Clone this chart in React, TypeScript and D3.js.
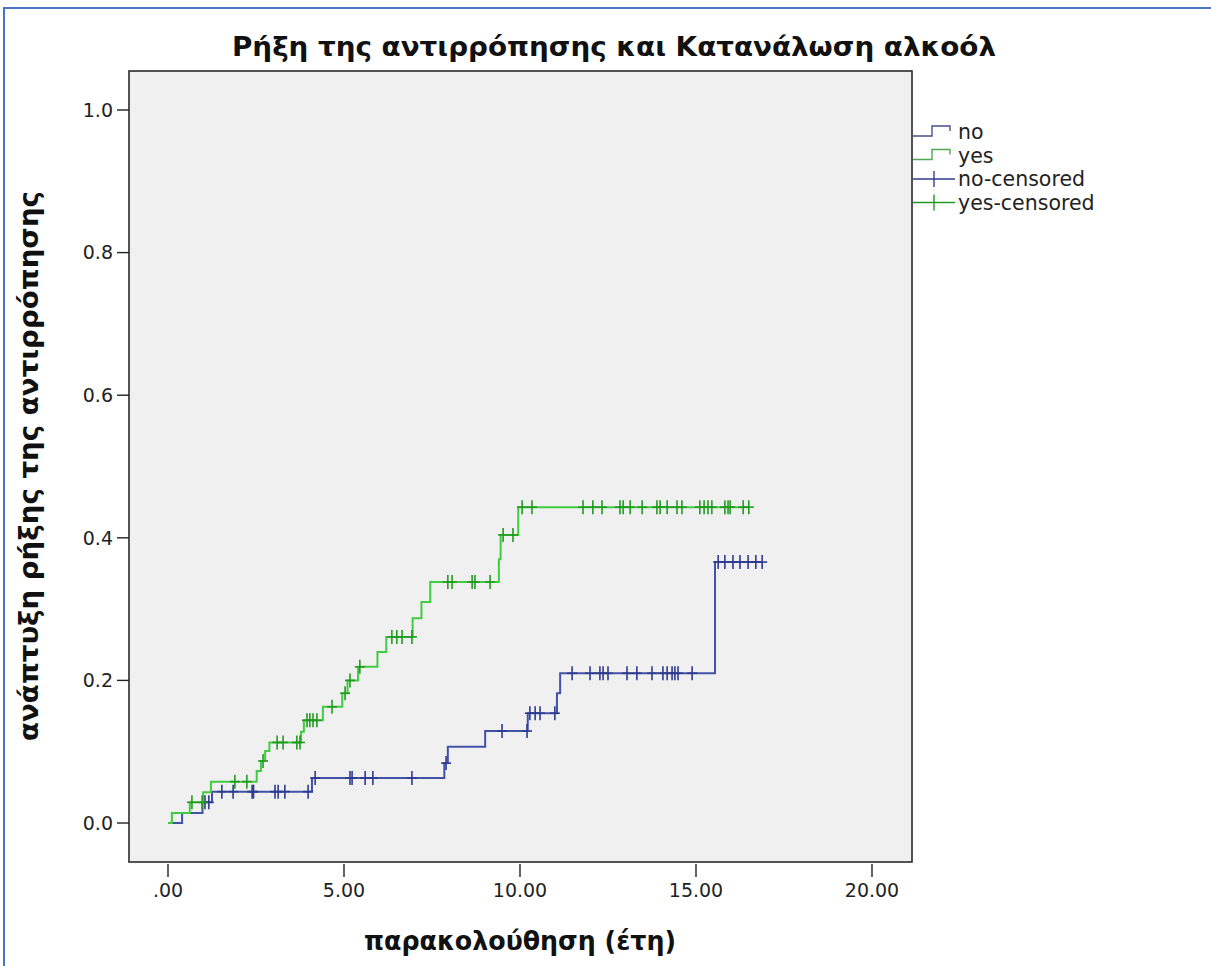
import React from 'react'
import * as d3 from 'd3'

// axis ticks
const xTicks = [0, 5, 10, 15, 20]
const yTicks = [0, 0.2, 0.4, 0.6, 0.8, 1.0]

// "no" group: event times / cumulative incidence after each event, censored times
const noStepTimes = [0.4, 0.98, 1.25, 4.09, 7.85, 7.95, 9.01, 10.22, 11.05, 11.14, 15.54]
const noStepValues = [0.014, 0.029, 0.044, 0.063, 0.084, 0.107, 0.129, 0.154, 0.182, 0.21, 0.366]
const noCensorTimes = [1.05, 1.16, 1.53, 1.85, 2.39, 2.43, 3.04, 3.13, 3.32, 3.98, 4.18, 5.17, 5.23, 5.6, 5.82, 6.93, 7.9, 9.49, 10.2, 10.28, 10.43, 10.57, 10.99, 11.48, 11.99, 12.27, 12.36, 12.5, 13.04, 13.32, 13.75, 14.06, 14.18, 14.32, 14.4, 14.49, 14.89, 15.63, 15.82, 16.05, 16.25, 16.48, 16.7, 16.88]

// "yes" group
const yesStepTimes = [0.11, 0.62, 1.0, 1.22, 2.52, 2.64, 2.76, 2.88, 3.78, 3.86, 4.4, 4.95, 5.1, 5.4, 5.95, 6.2, 6.95, 7.2, 7.45, 9.4, 9.45, 9.95]
const yesStepValues = [0.014, 0.029, 0.043, 0.058, 0.073, 0.087, 0.101, 0.113, 0.128, 0.144, 0.163, 0.182, 0.2, 0.219, 0.24, 0.261, 0.287, 0.31, 0.338, 0.37, 0.404, 0.443]
const yesCensorTimes = [0.68, 0.97, 1.9, 2.24, 2.7, 3.1, 3.27, 3.66, 3.75, 3.95, 4.03, 4.12, 4.23, 4.66, 5.03, 5.17, 5.45, 6.36, 6.5, 6.65, 6.93, 7.95, 8.07, 8.64, 8.72, 9.15, 9.52, 9.8, 10.06, 10.34, 11.79, 12.07, 12.33, 12.84, 12.93, 13.13, 13.47, 13.89, 13.98, 14.18, 14.46, 14.6, 15.11, 15.23, 15.34, 15.45, 15.82, 15.91, 15.97, 16.34, 16.5]

const legendLabels = ['no', 'yes', 'no-censored', 'yes-censored']

const W = 1211
const H = 966
const frame = { left: 129, right: 912, top: 71, bottom: 862 }

const NO_LINE = '#4152a8'
const NO_MARK = '#2e3b8e'
const YES_LINE = '#40cc40'
const YES_MARK = '#229a22'

const tickFont = '"DejaVu Sans", Verdana, sans-serif'
const titleFont = '"Liberation Sans Narrow", "DejaVu Sans Condensed", "Open Sans", sans-serif'

const x = d3.scaleLinear().domain([0, 20]).range([168, 872])
const y = d3.scaleLinear().domain([0, 1]).range([823, 110])

const line = d3.line<[number, number]>()
    .x(d => x(d[0]))
    .y(d => y(d[1]))
    .curve(d3.curveStepAfter)

const stepPoints = (times: number[], values: number[], end: number): [number, number][] => {
    const pts: [number, number][] = [[0, 0]]
    times.forEach((t, i) => pts.push([t, values[i]]))
    pts.push([end, values[values.length - 1]])
    return pts
}

const valueAt = (times: number[], values: number[], t: number) => {
    let v = 0
    times.forEach((s, i) => { if (s <= t) v = values[i] })
    return v
}

const Curve = ({ times, values, censors, color, mark }: any) => {
    const end = d3.max(censors as number[]) as number
    return (
        <g>
            <path d={line(stepPoints(times, values, end)) || ''} fill="none" stroke={color} strokeWidth={2} />
            {censors.map((t: number, i: number) => {
                const cx = x(t)
                const cy = y(valueAt(times, values, t))
                return (
                    <g key={i} stroke={mark} strokeWidth={1.6}>
                        <line x1={cx} x2={cx} y1={cy - 7} y2={cy + 7} />
                        <line x1={cx - 5} x2={cx + 5} y1={cy} y2={cy} />
                    </g>
                )
            })}
        </g>
    )
}

const Legend = () => {
    const lx = 913
    const rowY = (i: number) => 132 + i * 23.5
    return (
        <g>
            {legendLabels.map((label, i) => {
                const ry = rowY(i)
                const isNo = label.startsWith('no')
                const color = isNo ? '#46528a' : '#52a852'
                const censored = label.includes('censored')
                return (
                    <g key={label}>
                        {censored ? (
                            <g stroke={isNo ? NO_MARK : YES_MARK} strokeWidth={1.4}>
                                <line x1={lx} x2={lx + 42} y1={ry} y2={ry} />
                                <line x1={lx + 21} x2={lx + 21} y1={ry - 8} y2={ry + 8} />
                            </g>
                        ) : (
                            <path d={`M${lx},${ry + 4}H${lx + 19}V${ry - 6}H${lx + 37}V${ry - 1}`} fill="none" stroke={color} strokeWidth={1.4} />
                        )}
                        <text x={lx + 45} y={ry} dy="0.36em" fontFamily={tickFont} fontSize={20.5} fill="#222">{label}</text>
                    </g>
                )
            })}
        </g>
    )
}

export default function App() {
    return (
        <div style={{ position: 'absolute', left: 0, top: 0 }}>
            <svg width={W} height={H} style={{ display: 'block', background: '#fff' }}>
                {/* document frame */}
                <path d={`M4,${H}V8H${W}`} fill="none" stroke="#4a74c8" strokeWidth={2} />

                <text x={614} y={56} textAnchor="middle" fontFamily={titleFont} fontWeight="bold" fontSize={27}
                    textLength={764} lengthAdjust="spacingAndGlyphs" fill="#111">
                    Ρήξη της αντιρρόπησης και Κατανάλωση αλκοόλ
                </text>

                <rect x={frame.left} y={frame.top} width={frame.right - frame.left} height={frame.bottom - frame.top}
                    fill="#f0f0f0" stroke="#2a2a2a" strokeWidth={1.6} />

                {/* y axis */}
                {yTicks.map(t => (
                    <g key={t}>
                        <line x1={frame.left - 12} x2={frame.left} y1={y(t)} y2={y(t)} stroke="#222" strokeWidth={1.4} />
                        <text x={frame.left - 16} y={y(t)} dy="0.36em" textAnchor="end" fontFamily={tickFont} fontSize={19} fill="#222">
                            {d3.format('.1f')(t)}
                        </text>
                    </g>
                ))}

                {/* x axis */}
                {xTicks.map(t => (
                    <g key={t}>
                        <line x1={x(t)} x2={x(t)} y1={frame.bottom + 2} y2={frame.bottom + 15} stroke="#222" strokeWidth={1.4} />
                        <text x={x(t)} y={frame.bottom + 35} textAnchor="middle" fontFamily={tickFont} fontSize={19} fill="#222">
                            {t === 0 ? '.00' : d3.format('.2f')(t)}
                        </text>
                    </g>
                ))}

                <Curve times={noStepTimes} values={noStepValues} censors={noCensorTimes} color={NO_LINE} mark={NO_MARK} />
                <Curve times={yesStepTimes} values={yesStepValues} censors={yesCensorTimes} color={YES_LINE} mark={YES_MARK} />

                <text x={520} y={950} textAnchor="middle" fontFamily={titleFont} fontWeight="bold" fontSize={27}
                    textLength={312} lengthAdjust="spacingAndGlyphs" fill="#111">
                    παρακολούθηση (έτη)
                </text>

                <text transform={`translate(38,466) rotate(-90)`} textAnchor="middle" fontFamily={titleFont} fontWeight="bold" fontSize={27}
                    textLength={550} lengthAdjust="spacingAndGlyphs" fill="#111">
                    ανάπτυξη ρήξης της αντιρρόπησης
                </text>

                <Legend />
            </svg>
        </div>
    )
}
